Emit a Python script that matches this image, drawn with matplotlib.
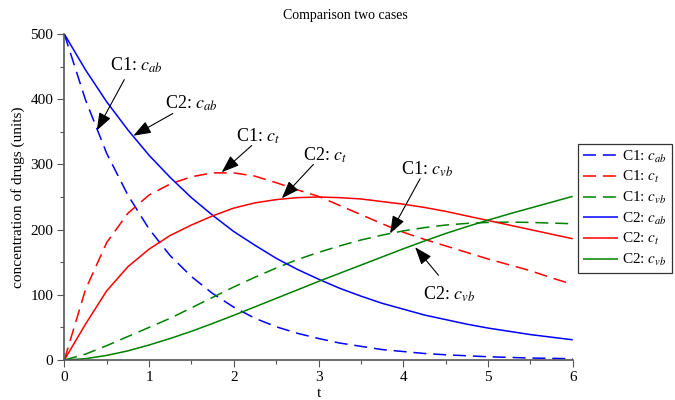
import matplotlib
matplotlib.use("Agg")
import matplotlib.pyplot as plt
from matplotlib.ticker import MultipleLocator

plt.rcParams["font.family"] = ["Liberation Serif", "DejaVu Serif"]
plt.rcParams["mathtext.fontset"] = "stix"

# time grid (hours)
t = [0, 0.25, 0.5, 0.75, 1, 1.25, 1.5, 1.75, 2, 2.25, 2.5, 2.75, 3,
     3.25, 3.5, 3.75, 4, 4.25, 4.5, 4.75, 5, 5.25, 5.5, 5.75, 6]

# case 1
c1_cab = [500, 399, 317, 253, 201, 160, 128, 102, 81, 64, 51, 41, 33,
          26, 21, 16, 13, 10, 8, 6.5, 5, 4, 3, 2.5, 2]
c1_ct = [0, 108, 180, 225, 253, 270, 281, 287, 287, 282, 272, 261, 251,
         237, 223, 209, 196, 185, 175, 165, 155, 146, 137, 126, 116]
c1_cvb = [0, 9, 22, 36, 50, 64, 80, 96, 112, 127, 141, 154, 165,
          175, 184, 191.5, 198, 203, 207, 209.5, 211, 211.5, 211, 210, 209]

# case 2
c2_cab = [500, 445, 396, 353, 314, 280, 249, 222, 197, 176, 156, 139, 124,
          110, 98, 87, 78, 69, 62, 55, 49, 44, 39, 35, 31]
c2_ct = [0, 55, 106, 143, 170, 191, 207, 221, 233, 241, 246, 249, 250,
         249, 247, 243, 239, 234, 228, 221, 214, 207, 200, 193, 186]
c2_cvb = [0, 2, 7, 14, 23, 33, 44, 56, 68.5, 81.5, 94.5, 107.5, 120.5,
          133, 145.5, 158, 170.5, 182.5, 194, 204.5, 214.5, 224, 233, 242, 251]

labels = [r"C1: $c_{ab}$", r"C1: $c_{t}$", r"C1: $c_{vb}$",
          r"C2: $c_{ab}$", r"C2: $c_{t}$", r"C2: $c_{vb}$"]

BLUE, RED, GREEN = "#0000ff", "#ff0000", "#008000"

fig = plt.figure(figsize=(6.75, 4.0), dpi=100)
ax = fig.add_axes([64.3 / 675, 40 / 400, (572.7 - 64.3) / 675, (360 - 34) / 400])

dash = (8.5, 4.5)
series = [
    (c1_cab, BLUE, True), (c1_ct, RED, True), (c1_cvb, GREEN, True),
    (c2_cab, BLUE, False), (c2_ct, RED, False), (c2_cvb, GREEN, False),
]
for (vals, col, dashed), lab in zip(series, labels):
    ln, = ax.plot(t, vals, color=col, lw=1.1, label=lab, solid_capstyle="butt",
                  solid_joinstyle="round")
    if dashed:
        ln.set_dashes(dash)

ax.set_xlim(0, 6)
ax.set_ylim(0, 500)
ax.xaxis.set_major_locator(MultipleLocator(1))
ax.xaxis.set_minor_locator(MultipleLocator(0.5))
ax.yaxis.set_major_locator(MultipleLocator(100))
ax.yaxis.set_minor_locator(MultipleLocator(50))
for side in ("top", "right"):
    ax.spines[side].set_visible(False)
for side in ("left", "bottom"):
    ax.spines[side].set_color("#555555")
    ax.spines[side].set_linewidth(1.2)
ax.tick_params(which="major", length=5, width=0.8, color="#555555",
               labelsize=11, pad=3)
ax.tick_params(which="minor", length=3, width=0.8, color="#555555")
ax.set_xlabel("t", fontsize=11, labelpad=2)
ax.set_ylabel("concentration of drugs (units)", fontsize=11, labelpad=4)

fig.text(345 / 675, 1 - 16 / 400, "Comparison two cases", ha="center",
         va="center", fontsize=10)

# callouts: label, arrow head, arrow tail, text centre (data coords)
callouts = [
    (r"C1: $c_{ab}$", (0.383, 352), (0.708, 430), (0.852, 452)),
    (r"C2: $c_{ab}$", (0.815, 344), (1.280, 378), (1.500, 393)),
    (r"C1: $c_{t}$", (1.858, 288), (2.212, 329), (2.287, 343)),
    (r"C2: $c_{t}$", (2.567, 248), (2.940, 300), (3.078, 314)),
    (r"C1: $c_{vb}$", (3.845, 194), (4.199, 278), (4.279, 293)),
    (r"C2: $c_{vb}$", (4.141, 173), (4.416, 130), (4.540, 100)),
]
for text, head, tail, pos in callouts:
    ax.annotate("", xy=head, xytext=tail,
                arrowprops=dict(arrowstyle="-|>,head_length=0.6,head_width=0.22",
                                color="black", lw=0.8, mutation_scale=18,
                                shrinkA=0, shrinkB=0))
    ax.text(pos[0], pos[1], text, ha="center", va="center", fontsize=13)

leg = fig.legend(loc="upper left", bbox_to_anchor=(578 / 675, 1 - 144 / 400),
                 frameon=True, fancybox=False, fontsize=11, handlelength=2.3,
                 handletextpad=0.3, labelspacing=0.3, borderpad=0.3,
                 borderaxespad=0)
leg.get_frame().set_edgecolor("black")
leg.get_frame().set_linewidth(0.9)

fig.savefig("out.png", dpi=100)
